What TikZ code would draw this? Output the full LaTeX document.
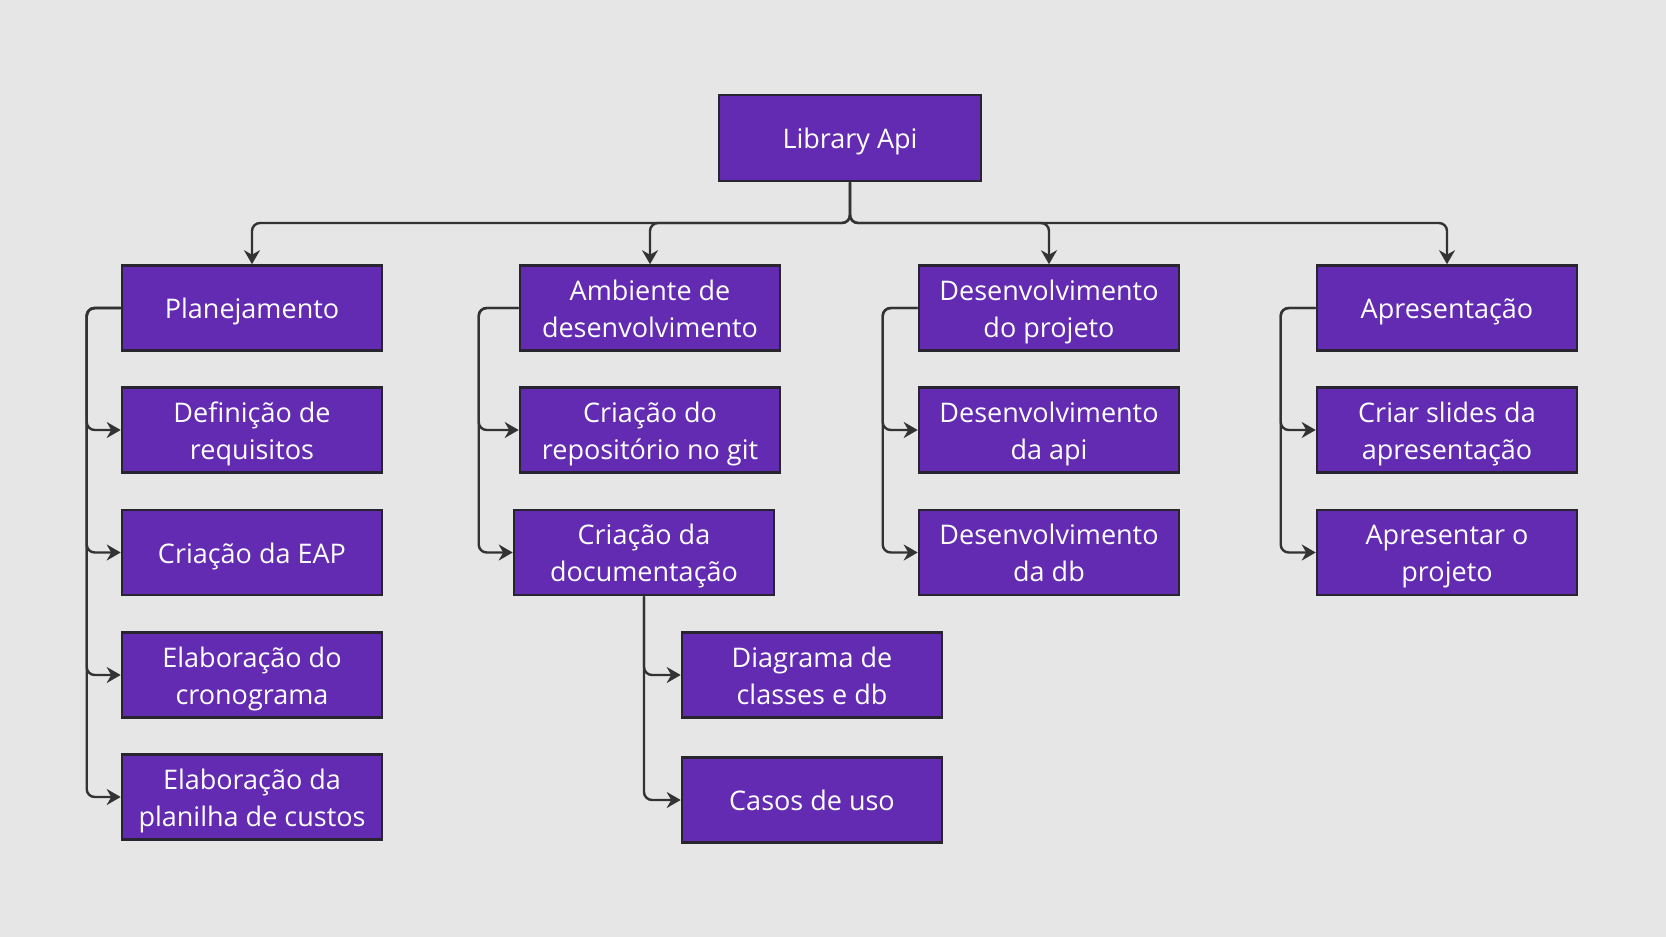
\documentclass[tikz,border=0pt]{standalone}
\usepackage{fontspec}
\setmainfont{Open Sans}
\usetikzlibrary{arrows.meta}
\definecolor{bg}{RGB}{230,230,230}
\definecolor{boxfill}{RGB}{99,42,178}
\definecolor{boxline}{RGB}{40,36,48}
\definecolor{linec}{RGB}{51,51,51}
\newcommand{\tstrut}{\rule{0pt}{14.5pt}}
\newcommand{\bstrut}{\rule[-3.7pt]{0pt}{3.7pt}}
\tikzset{
  wbs/.style={draw=boxline, line width=1.3pt, fill=boxfill, text=white,
    minimum width=130pt, minimum height=42.5pt, inner sep=0pt, align=center,
    font=\fontsize{13.5pt}{18.5pt}\selectfont},
  conn/.style={draw=linec, line width=1.2pt, rounded corners=4pt,
    -{Stealth[length=7pt,width=8pt]}},
}
\begin{document}
\begin{tikzpicture}[x=0.5pt,y=-0.5pt]
\fill[bg] (0,0) rectangle (1666,937);
\useasboundingbox (0,0) rectangle (1666,937);
% root
\node[wbs, minimum width=131pt, minimum height=43pt] (root) at (850,138) {\tstrut Library Api\bstrut};
\coordinate (bus) at (850,223);
% level 1
\node[wbs] (p1) at (252,308) {\tstrut Planejamento\bstrut};
\node[wbs] (p2) at (650,308) {\tstrut Ambiente de\\desenvolvimento\bstrut};
\node[wbs] (p3) at (1049,308) {\tstrut Desenvolvimento\\do projeto\bstrut};
\node[wbs] (p4) at (1447,308) {\tstrut Apresentação\bstrut};
% Planejamento children
\node[wbs] (a1) at (252,430) {\tstrut Definição de\\requisitos\bstrut};
\node[wbs] (a2) at (252,552.5) {\tstrut Criação da EAP\bstrut};
\node[wbs] (a3) at (252,675) {\tstrut Elaboração do\\cronograma\bstrut};
\node[wbs] (a4) at (252,797) {\tstrut Elaboração da\\planilha de custos\bstrut};
% Ambiente children
\node[wbs] (b1) at (650,430) {\tstrut Criação do\\repositório no git\bstrut};
\node[wbs] (b2) at (644,552.5) {\tstrut Criação da\\documentação\bstrut};
\node[wbs] (b3) at (812,675) {\tstrut Diagrama de\\classes e db\bstrut};
\node[wbs] (b4) at (812,800) {\tstrut Casos de uso\bstrut};
% Desenvolvimento children
\node[wbs] (c1) at (1049,430) {\tstrut Desenvolvimento\\da api\bstrut};
\node[wbs] (c2) at (1049,552.5) {\tstrut Desenvolvimento\\da db\bstrut};
% Apresentação children
\node[wbs] (d1) at (1447,430) {\tstrut Criar slides da\\apresentação\bstrut};
\node[wbs] (d2) at (1447,552.5) {\tstrut Apresentar o\\projeto\bstrut};
% root connectors
\foreach \n in {p1,p2,p3,p4}
  \draw[conn] (root.south) -- (bus) -| (\n.north);
% side connectors
\foreach \n in {a1,a2,a3,a4}
  \draw[conn] (p1.west) -- ++(-34,0) |- (\n.west);
\foreach \n in {b1,b2}
  \draw[conn] (p2.west) -- ++(-40,0) |- (\n.west);
\foreach \n in {b3,b4}
  \draw[conn] (b2.south) |- (\n.west);
\foreach \n in {c1,c2}
  \draw[conn] (p3.west) -- ++(-35,0) |- (\n.west);
\foreach \n in {d1,d2}
  \draw[conn] (p4.west) -- ++(-35,0) |- (\n.west);
\end{tikzpicture}
\end{document}
